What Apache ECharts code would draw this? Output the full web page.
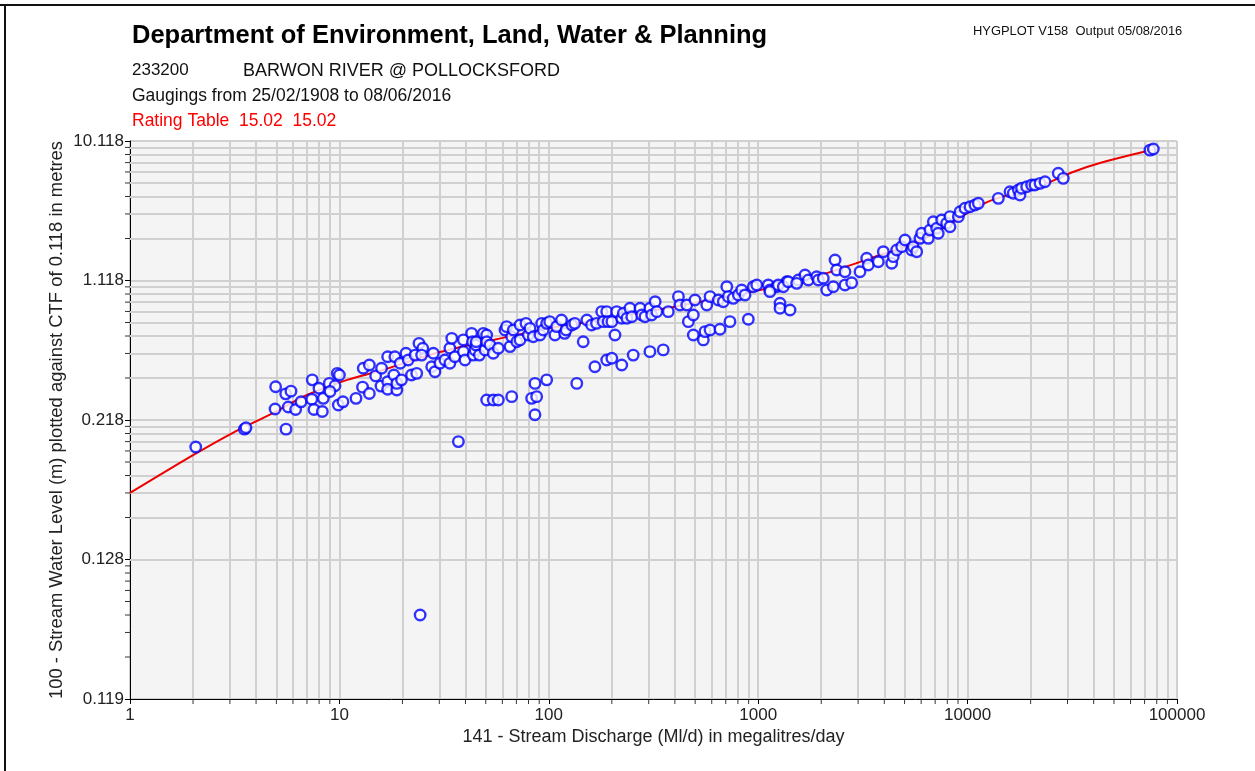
<!DOCTYPE html>
<html>
<head>
<meta charset="utf-8">
<script src="https://cdn.jsdelivr.net/npm/echarts@6/dist/echarts.min.js"></script>
<style>
html,body{margin:0;padding:0;background:#fff;}
#chart{width:1255px;height:771px;}
</style>
</head>
<body>
<div id="chart"></div>
<script>
// ---- Data ----
const CTF = 0.118; // cease-to-flow level (m)

// Gaugings: discharge (Ml/d) and stream water level (m)
const gaugingDischarge = [
  2.06, 3.52, 3.58, 4.96, 5.54, 5.87, 4.93, 5.70, 6.18, 5.56,
  6.56, 7.42, 7.99, 7.38, 8.38, 7.56, 8.29, 8.95, 9.53, 9.02,
  9.77, 10.0, 9.88, 10.4, 12.0, 12.9, 13.9, 13.0, 13.9, 14.9,
  15.9, 15.8, 17.0, 17.0, 17.0, 18.4, 18.2, 18.8, 18.8, 19.5,
  19.8, 20.8, 21.3, 22.1, 23.4, 24.0, 25.0, 23.0, 24.7, 28.1,
  27.6, 28.6, 30.2, 31.9, 33.7, 34.4, 33.7, 37.0, 35.6, 39.1,
  39.8, 39.1, 42.8, 43.2, 43.6, 44.4, 44.9, 24.3,
  50.5, 54.3, 57.4, 66.5, 82.8, 87.5, 85.9, 85.9, 97.7, 136,
  166, 189, 200, 223, 253, 304, 352, 490, 547, 557,
  589, 657, 733, 897, 464, 490, 1271, 1271, 1419, 207,
  146,
  45.0, 46.6, 48.7, 49.6, 50.5, 50.5, 52.4, 54.3, 57.4, 61.8,
  62.9, 65.3, 66.5, 67.7, 70.3, 72.9, 72.9, 77.8, 79.8, 81.3,
  84.3, 90.8, 92.5, 94.1, 97.7, 101, 107, 109, 115, 119,
  121, 129, 133, 152, 160, 169, 179, 189, 182, 192,
  200, 211, 223, 227, 236, 244, 249, 273, 278, 288,
  304, 310, 322, 328, 372, 416, 423, 456, 499, 568,
  589, 645, 681, 708, 720, 760, 804, 834, 865, 948,
  984, 1117, 1138, 1225, 1368, 1555,
  1138, 1247, 1318, 1392, 1527, 1673, 1735, 1902, 1937, 2046,
  2124, 2284, 2328, 2371, 2597, 2597, 2796, 3063, 3297, 3356,
  3746, 3959, 4341, 4417, 4586, 4845, 5024, 5408, 5500, 5713,
  5925, 6037, 6490, 6610, 6858, 7115, 7240, 7519, 7943, 8240,
  8240, 9030, 9200, 9718, 10270, 10840, 11250, 14020, 15940, 16520,
  17470, 17790, 18100, 19150, 20230, 20980, 22170, 23420, 27100, 28640,
  74300, 77090
];
const gaugingLevel = [
  0.182, 0.204, 0.206, 0.291, 0.272, 0.279, 0.238, 0.242, 0.237, 0.204,
  0.253, 0.312, 0.287, 0.259, 0.261, 0.237, 0.233, 0.301, 0.294, 0.278,
  0.334, 0.328, 0.246, 0.253, 0.261, 0.290, 0.273, 0.353, 0.366, 0.325,
  0.353, 0.293, 0.306, 0.284, 0.402, 0.402, 0.328, 0.282, 0.301, 0.373,
  0.312, 0.419, 0.387, 0.328, 0.334, 0.472, 0.445, 0.410, 0.410, 0.419,
  0.359, 0.340, 0.373, 0.387, 0.445, 0.503, 0.373, 0.188, 0.402, 0.427,
  0.387, 0.493, 0.536, 0.482, 0.410, 0.436, 0.463, 0.122,
  0.257, 0.257, 0.257, 0.265, 0.261, 0.265, 0.301, 0.227, 0.312, 0.301,
  0.359, 0.387, 0.395, 0.366, 0.410, 0.427, 0.436, 0.525, 0.493, 0.548,
  0.560, 0.565, 0.625, 0.645, 0.625, 0.684, 0.805, 0.750, 0.732, 0.525,
  0.482,
  0.482, 0.410, 0.536, 0.436, 0.525, 0.482, 0.463, 0.419, 0.445, 0.560,
  0.585, 0.454, 0.513, 0.560, 0.482, 0.598, 0.493, 0.611, 0.525, 0.572,
  0.513, 0.525, 0.611, 0.560, 0.611, 0.625, 0.525, 0.585, 0.639, 0.536,
  0.560, 0.598, 0.611, 0.639, 0.598, 0.611, 0.716, 0.716, 0.625, 0.625,
  0.625, 0.716, 0.654, 0.700, 0.654, 0.750, 0.668, 0.750, 0.684, 0.668,
  0.750, 0.684, 0.823, 0.716, 0.716, 0.884, 0.785, 0.785, 0.843, 0.785,
  0.884, 0.843, 0.823, 1.021, 0.884, 0.863, 0.906, 0.973, 0.906, 1.021,
  1.046, 1.046, 0.973, 1.021, 1.098, 1.126,
  0.950, 1.046, 1.021, 1.098, 1.072, 1.213, 1.126, 1.182, 1.126, 1.155,
  0.973, 1.021, 1.521, 1.307, 1.274, 1.046, 1.082, 1.274, 1.561, 1.410,
  1.482, 1.727, 1.446, 1.600, 1.773, 1.865, 2.068, 1.773, 1.865, 1.727,
  2.124, 2.298, 2.124, 2.419, 2.755, 2.484, 2.298, 2.833, 2.688, 2.986,
  2.548, 2.986, 3.231, 3.411, 3.498, 3.594, 3.693, 3.998, 4.448, 4.335,
  4.572, 4.218, 4.698, 4.818, 4.958, 4.958, 5.088, 5.224, 5.986, 5.518,
  8.718, 8.878
];

// Rating table 15.02: discharge (Ml/d) and level (m)
const ratingDischarge = [1.0, 2.0, 3.1, 4.82, 7.0, 10.9, 15.6, 30.2, 54.3, 109, 176, 392, 1020, 1584, 2131, 2965, 3690, 5308, 7385, 12380, 22170, 31860, 42870, 68800, 78500];
const ratingLevel     = [0.148, 0.174, 0.199, 0.230, 0.269, 0.312, 0.343, 0.425, 0.493, 0.583, 0.639, 0.764, 0.973, 1.110, 1.248, 1.453, 1.618, 1.914, 2.418, 3.768, 4.875, 6.118, 7.068, 8.458, 8.878];

// Axis ranges (level above CTF for y)
const xMin = 1, xMax = 100000;
const yMin = 0.001, yMax = 10;

// ---- Build ----
const gaugings = gaugingDischarge.map((q, i) => [q, gaugingLevel[i] - CTF]);
const rating = ratingDischarge.map((q, i) => [q, ratingLevel[i] - CTF]);

// minor (2..9) positions of each decade, for grid lines and ticks
const xMinor = [], yMinor = [];
for (let d = xMin; d < xMax; d *= 10) for (let m = 2; m <= 9; m++) xMinor.push(+(m * d).toPrecision(6));
for (let d = yMin; d < yMax - 1e-9; d *= 10) for (let m = 2; m <= 9; m++) yMinor.push(+(m * d).toPrecision(6));

const GRIDC = '#d0d0d0';
const GRIDW = 2;
const FONT = '"Liberation Sans", Arial, sans-serif';

const chart = echarts.init(document.getElementById('chart'), null, {renderer: 'canvas'});
chart.setOption({
  animation: false,
  backgroundColor: '#ffffff',
  textStyle: {fontFamily: FONT},
  grid: {left: 130, top: 141, right: 78, bottom: 72, show: true, backgroundColor: '#f4f4f4', borderColor: '#000', borderWidth: 1},
  xAxis: {
    type: 'log', logBase: 10, min: xMin, max: xMax,
    name: '141 - Stream Discharge (Ml/d) in megalitres/day',
    nameLocation: 'middle', nameGap: 29, nameMoveOverlap: false,
    nameTextStyle: {fontSize: 18, color: '#222', fontFamily: FONT},
    axisLine: {lineStyle: {color: '#000', width: 1}},
    axisTick: {show: true, inside: false, length: 5, lineStyle: {color: '#000'}},
    axisLabel: {fontSize: 17, color: '#222', margin: 8, fontFamily: FONT, formatter: v => String(Math.round(v))},
    splitLine: {show: true, lineStyle: {color: GRIDC, width: GRIDW}}
  },
  yAxis: {
    type: 'log', logBase: 10, min: yMin, max: yMax,
    name: '100 - Stream Water Level (m) plotted against CTF of 0.118 in metres',
    nameLocation: 'middle', nameGap: 64, nameMoveOverlap: false,
    nameTextStyle: {fontSize: 18.4, color: '#222', fontFamily: FONT},
    axisLine: {lineStyle: {color: '#000', width: 1}},
    axisTick: {show: true, inside: false, length: 5, lineStyle: {color: '#000'}},
    axisLabel: {fontSize: 17, color: '#222', margin: 6, fontFamily: FONT, formatter: v => (v + CTF).toFixed(3)},
    splitLine: {show: true, lineStyle: {color: GRIDC, width: GRIDW}}
  },
  graphic: [
    {type: 'line', shape: {x1: 0, y1: 5, x2: 1255, y2: 5}, style: {stroke: '#111', lineWidth: 2}},
    {type: 'line', shape: {x1: 5, y1: 5, x2: 5, y2: 771}, style: {stroke: '#111', lineWidth: 2}},
    {type: 'text', left: 132, top: 23, style: {text: 'Department of Environment, Land, Water & Planning', font: 'bold 25.5px ' + FONT, fill: '#000'}},
    {type: 'text', left: 132, top: 62, style: {text: '233200', font: '17px ' + FONT, fill: '#111'}},
    {type: 'text', left: 243, top: 62, style: {text: 'BARWON RIVER @ POLLOCKSFORD', font: '18px ' + FONT, fill: '#111'}},
    {type: 'text', left: 132, top: 87.5, style: {text: 'Gaugings from 25/02/1908 to 08/06/2016', font: '17.5px ' + FONT, fill: '#111'}},
    {type: 'text', left: 132, top: 112.5, style: {text: 'Rating Table  15.02  15.02', font: '17.5px ' + FONT, fill: '#ff0000'}},
    {type: 'text', left: 973, top: 25, style: {text: 'HYGPLOT V158  Output 05/08/2016', font: '12.9px ' + FONT, fill: '#111'}}
  ],
  series: [
    {
      name: 'minorX', type: 'scatter', z: 1, silent: true, clip: false,
      data: xMinor.map(v => [v, yMin]),
      symbol: 'rect', symbolSize: [1, 5], symbolOffset: [0, 2.5],
      itemStyle: {color: '#000'},
      markLine: {
        silent: true, symbol: ['none', 'none'], label: {show: false}, z: 1,
        lineStyle: {color: GRIDC, width: GRIDW, type: 'solid'},
        data: xMinor.map(v => ({xAxis: v})).concat(yMinor.map(v => ({yAxis: v})))
      }
    },
    {
      name: 'minorY', type: 'scatter', z: 1, silent: true, clip: false,
      data: yMinor.map(v => [xMin, v]),
      symbol: 'rect', symbolSize: [5, 1], symbolOffset: [-2.5, 0],
      itemStyle: {color: '#000'}
    },
    {
      name: 'Rating Table 15.02', type: 'line', z: 3, smooth: 0.3,
      data: rating, showSymbol: false,
      lineStyle: {color: '#ee0000', width: 2}
    },
    {
      name: 'Gaugings', type: 'scatter', z: 4,
      data: gaugings, symbol: 'circle', symbolSize: 10.5,
      itemStyle: {color: '#ffffff', borderColor: '#0000ff', borderWidth: 2.4}
    }
  ]
});
</script>
</body>
</html>
